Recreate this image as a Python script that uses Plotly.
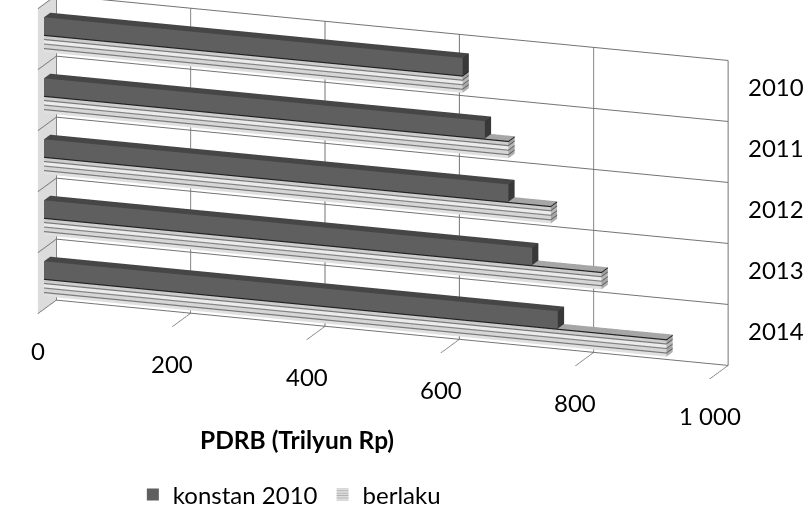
import plotly.graph_objects as go

# ---------------- data ----------------
years = ["2010", "2011", "2012", "2013", "2014"]
konstan = [623.2, 656.3, 691.3, 726.7, 764.9]
berlaku = [623.2, 691.4, 754.5, 830.0, 926.7]
value_ticks = [0, 200, 400, 600, 800, 1000]
value_ticktext = ["0", "200", "400", "600", "800", "1 000"]
series_names = ["konstan 2010", "berlaku"]
axis_title = "PDRB (Trilyun Rp)"

# ---------------- style ----------------
FONT = "Lato, 'Open Sans', sans-serif"
FS = 24
GAP = 1.5
BAR_T = 1.0 / (2 + GAP)
D0, D1 = 0.33, 0.67  # bar depth span inside the box

K_COLS = dict(front="#5f5f5f", top="#464646", end="#383838",
              back="#5f5f5f", left="#5f5f5f", bottom="#5f5f5f")
STRIPES = [(0.07, "#222222"), (0.17, "#cdcdcd"), (0.07, "#7a7a7a"),
           (0.19, "#ebebeb"), (0.07, "#858585"), (0.19, "#d6d6d6"),
           (0.07, "#7a7a7a"), (0.17, "#e0e0e0")]
B_TOP = "#a6a6a6"


def darker(hexc, f=0.78):
    r, g, b = int(hexc[1:3], 16), int(hexc[3:5], 16), int(hexc[5:7], 16)
    return "#%02x%02x%02x" % (int(r * f), int(g * f), int(b * f))


def add_box(M, x0, x1, y0, y1, z0, z1, cols):
    V, I, J, K, FC = M
    b = len(V[0])
    pts = [(x0, y0, z0), (x1, y0, z0), (x1, y1, z0), (x0, y1, z0),
           (x0, y0, z1), (x1, y0, z1), (x1, y1, z1), (x0, y1, z1)]
    for p in pts:
        V[0].append(p[0]); V[1].append(p[1]); V[2].append(p[2])
    faces = {
        "bottom": [(0, 1, 2), (0, 2, 3)],
        "top": [(4, 5, 6), (4, 6, 7)],
        "front": [(0, 1, 5), (0, 5, 4)],
        "back": [(3, 2, 6), (3, 6, 7)],
        "left": [(0, 3, 7), (0, 7, 4)],
        "end": [(1, 2, 6), (1, 6, 5)],
    }
    for f, tris in faces.items():
        for a, c, d in tris:
            I.append(b + a); J.append(b + c); K.append(b + d); FC.append(cols[f])


def new_mesh():
    return ([[], [], []], [], [], [], [])


n = len(years)
mk = new_mesh()
mb = new_mesh()
for idx, yr in enumerate(years):
    zb = n - 1 - idx
    add_box(mk, 0, konstan[idx], D0, D1, zb + 0.5, zb + 0.5 + BAR_T, K_COLS)
    ztop = zb + 0.5
    for si, (frac, col) in enumerate(STRIPES):
        h = frac * BAR_T
        cols = dict(front=col, end=darker(col), back=col, left=col,
                    bottom=col, top=B_TOP if si == 0 else col)
        add_box(mb, 0, berlaku[idx], D0, D1, ztop - h, ztop, cols)
        ztop -= h

LIGHT = dict(ambient=1.0, diffuse=0.0, specular=0.0, roughness=1.0, fresnel=0.0)
fig = go.Figure()
for name, M in ((series_names[0], mk), (series_names[1], mb)):
    V, I, J, K, FC = M
    fig.add_trace(go.Mesh3d(x=V[0], y=V[1], z=V[2], i=I, j=J, k=K,
                            facecolor=FC, flatshading=True, lighting=LIGHT,
                            hoverinfo="skip", showscale=False, name=name,
                            showlegend=False))

# legend proxies
fig.add_trace(go.Bar(x=[None], y=[None], name=series_names[0],
                     marker=dict(color="#5f5f5f", line=dict(width=0))))
fig.add_trace(go.Bar(x=[None], y=[None], name=series_names[1],
                     marker=dict(color="white", line=dict(width=0),
                                 pattern=dict(shape="-", fgcolor="#555555",
                                              bgcolor="white", size=3, solidity=0.6))))

GRID = "#747474"
TXT = dict(family=FONT, size=FS, color="black")
annotations3d = [dict(x=1000, y=1, z=(n - 1 - i) + 0.5, text=yr, showarrow=False,
                      xshift=48, yshift=4, font=TXT)
                 for i, yr in enumerate(years)]
annotations3d += [dict(x=v, y=0, z=0, text=t, showarrow=False, yshift=-37, font=TXT)
                  for v, t in zip(value_ticks, value_ticktext)]

E = 4.0
ed = (0.330, -0.906, 0.267)
cen = (0.108, 0.001, -0.129)
fig.update_layout(
    width=810, height=508,
    margin=dict(l=0, r=0, t=0, b=0, autoexpand=False),
    paper_bgcolor="white", plot_bgcolor="rgba(0,0,0,0)",
    font=TXT,
    hovermode=False,
    xaxis=dict(visible=False, domain=[0, 0.01]),
    yaxis=dict(visible=False, domain=[0, 0.01]),
    scene=dict(
        domain=dict(x=[0, 1.0], y=[0.15, 1.0]),
        xaxis=dict(range=[0, 1000], tickvals=value_ticks, showticklabels=False,
                   title=dict(text=""), showbackground=True, backgroundcolor="#dcdcdc",
                   gridcolor=GRID, gridwidth=2, zeroline=False, showspikes=False,
                   ticks=""),
        yaxis=dict(range=[0, 1], showgrid=False, showticklabels=False, ticks="",
                   title=dict(text=""), showbackground=True, backgroundcolor="white",
                   zeroline=False, showspikes=False),
        zaxis=dict(range=[0, 5], tickvals=[0, 1, 2, 3, 4, 5], showticklabels=False,
                   ticks="", title=dict(text=""), showbackground=True,
                   backgroundcolor="white", gridcolor=GRID, gridwidth=2,
                   zeroline=False, showspikes=False),
        aspectmode="manual", aspectratio=dict(x=3.31, y=0.25, z=1.465),
        camera=dict(projection=dict(type="orthographic"),
                    eye=dict(x=cen[0] + E * ed[0], y=cen[1] + E * ed[1], z=cen[2] + E * ed[2]),
                    up=dict(x=0, y=0, z=1),
                    center=dict(x=cen[0], y=cen[1], z=cen[2])),
        annotations=annotations3d,
    ),
    legend=dict(orientation="h", x=0.164, y=0.026, xanchor="left", yanchor="middle",
                font=TXT, bgcolor="rgba(0,0,0,0)"),
    annotations=[dict(text="<b>" + axis_title + "</b>", x=0.367, y=0.134,
                      xref="paper", yref="paper", showarrow=False,
                      xanchor="center", yanchor="middle",
                      font=dict(family=FONT, size=24.5, color="black"))],
)

fig.write_html("out.html")
